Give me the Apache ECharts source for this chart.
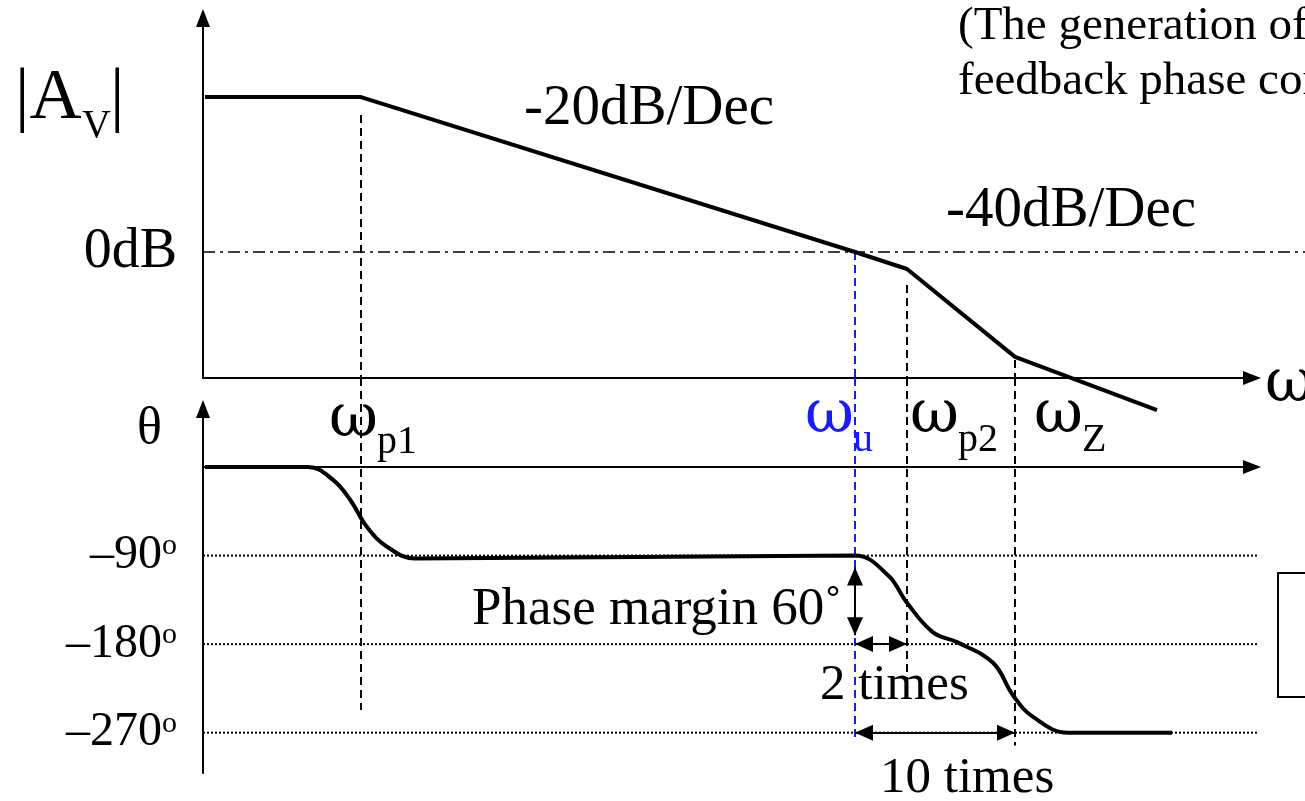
<!DOCTYPE html>
<html>
<head>
<meta charset="utf-8">
<script src="https://cdn.jsdelivr.net/npm/echarts@6/dist/echarts.min.js"></script>
<style>
html,body{margin:0;padding:0;background:#fff;}
#chart{width:1305px;height:801px;}
</style>
</head>
<body>
<div id="chart"></div>
<script>
// ---------- data ----------
// x: log-frequency in arbitrary units (schematic Bode plot)
const magX   = [0.02, 1.58, 6.52, 7.04, 8.12, 9.54];
const magDb  = [49.2, 49.2, 0, -5.4, -33.3, -50.2];

const phaseX   = [0.02, 1.05, 1.30, 1.47, 1.64, 1.84, 2.12, 6.52, 6.85, 7.04, 7.30, 7.54, 7.90, 8.10, 8.30, 8.65, 9.69];
const phaseDeg = [0, 0, -13, -33, -61, -81, -93, -90, -110, -138, -168, -178, -199, -232, -254, -270, -270];

// corner frequencies: wp1, wu, wp2, wz
const guideX          = [1.58, 6.52, 7.04, 8.12];
const guideMagTop     = [43.5, 0, -10.5, -34.3];
const guidePhaseBottom= [-247, -276, -230, -283];
const guideNames      = ['p1', 'u', 'p2', 'Z'];

const phaseTicks   = [-90, -180, -270];
const phaseTickLbl = ['–90', '–180', '–270'];
const magTicks     = [0];
const magTickLbl   = ['0dB'];

const slopeLabels  = ['-20dB/Dec', '-40dB/Dec'];
const pmLabel      = 'Phase margin 60˚';
const ratioLabels  = ['2 times', '10 times'];
const noteLines    = ['(The generation of', 'feedback phase compensation'];

// ---------- chart ----------
const FONT = '"Liberation Serif","Times New Roman",serif';
const GREEK = '"DejaVu Serif","Liberation Serif",serif';
const chart = echarts.init(document.getElementById('chart'), null, {renderer:'canvas'});

const GL = 203, GR = 1252, PAGE_R = 1305;
const magTop = 18, magBottom = 378;
const phTop = 409, phBottom = 773;
const magMin = -40, magMax = 74.3;
const phMin = -311, phMax = 59;
const xMax = 10.49;
const xMaxWide = xMax * (PAGE_R - GL) / (GR - GL);
const phAtMagBottom = (phMax - phMin) / (phBottom - phTop) * (phTop - magBottom) + phMax;

function txt(x, base, size, text, color, font) {
  return {
    type: 'text', x: x, y: base - 0.34 * size,
    style: { text: text, font: size + 'px ' + (font || FONT), fill: color || '#000',
      textAlign: 'left', textVerticalAlign: 'middle', align: 'left', verticalAlign: 'middle' }
  };
}

const arrowAxis = { show: true, onZero: false, symbol: ['none', 'triangle'], symbolSize: [14, 18],
  lineStyle: { color: '#000', width: 2 } };
const hidden = { show: false };

function seg(grid, pts, color, width, type, z) {
  return { type: 'line', xAxisIndex: grid, yAxisIndex: grid, clip: false, symbol: 'none', silent: true,
    data: pts, lineStyle: { color: color, width: width, type: type }, z: z || 1 };
}

const extraSeries = [];
guideX.forEach(function (gx, i) {
  const col = i === 1 ? '#1a1aff' : '#000';
  extraSeries.push(seg(0, [[gx, guideMagTop[i]], [gx, magMin]], col, 2, [8, 5]));
  extraSeries.push(seg(1, [[gx, phAtMagBottom], [gx, guidePhaseBottom[i]]], col, 2, [8, 5]));
});
// 0 dB reference (dash-dot), drawn on a wide twin of the gain grid
extraSeries.push(seg(2, [[0, 0], [xMaxWide, 0]], '#000', 1.5, [12, 5, 3, 5]));
// phase reference lines (dotted), on a wide twin of the phase grid
phaseTicks.forEach(function (t) {
  extraSeries.push(seg(3, [[0, t], [10.56, t]], '#000', 2, [2, 2]));
});

const arrowMark = {
  silent: true, symbol: ['triangle', 'triangle'], symbolSize: [16, 18],
  symbolOffset: [[0, 9], [0, 9]],
  label: { show: false },
  lineStyle: { color: '#000', width: 2, type: 'solid' },
  data: [
    [{ coord: [guideX[1], -102] }, { coord: [guideX[1], -171] }],
    [{ coord: [guideX[1], -180] }, { coord: [guideX[2], -180] }],
    [{ coord: [guideX[1], -270] }, { coord: [guideX[3], -270] }]
  ]
};

const option = {
  animation: false,
  backgroundColor: '#fff',
  grid: [
    { left: GL, width: GR - GL, top: magTop, height: magBottom - magTop },
    { left: GL, width: GR - GL, top: phTop, height: phBottom - phTop },
    { left: GL, width: PAGE_R - GL, top: magTop, height: magBottom - magTop },
    { left: GL, width: PAGE_R - GL, top: phTop, height: phBottom - phTop }
  ],
  xAxis: [
    { type: 'value', gridIndex: 0, min: 0, max: xMax, axisLine: arrowAxis,
      axisTick: { show: false }, axisLabel: { show: false }, splitLine: { show: false } },
    { type: 'value', gridIndex: 1, min: 0, max: xMax,
      axisLine: Object.assign({}, arrowAxis, { onZero: true }),
      axisTick: { show: false }, axisLabel: { show: false }, splitLine: { show: false } },
    { type: 'value', gridIndex: 2, min: 0, max: xMaxWide, show: false },
    { type: 'value', gridIndex: 3, min: 0, max: xMaxWide, show: false }
  ],
  yAxis: [
    { type: 'value', gridIndex: 0, min: magMin, max: magMax, axisLine: arrowAxis,
      axisTick: { show: false }, splitLine: { show: false },
      axisLabel: { show: true, customValues: magTicks, margin: 26,
        formatter: function (v) { return magTickLbl[magTicks.indexOf(v)]; },
        fontFamily: FONT, fontSize: 56, color: '#000' } },
    { type: 'value', gridIndex: 1, min: phMin, max: phMax, axisLine: arrowAxis,
      axisTick: { show: false }, splitLine: { show: false },
      axisLabel: { show: true, customValues: phaseTicks, margin: 26,
        formatter: function (v) { return '{n|' + phaseTickLbl[phaseTicks.indexOf(v)] + '}{s|o}'; },
        rich: {
          n: { fontFamily: FONT, fontSize: 48, color: '#000' },
          s: { fontFamily: FONT, fontSize: 30, color: '#000', verticalAlign: 'top', padding: [0, 0, 18, 0] }
        } } },
    { type: 'value', gridIndex: 2, min: magMin, max: magMax, show: false },
    { type: 'value', gridIndex: 3, min: phMin, max: phMax, show: false }
  ],
  series: [
    { type: 'line', name: 'gain', xAxisIndex: 0, yAxisIndex: 0, clip: false, symbol: 'none',
      data: magX.map(function (x, i) { return [x, magDb[i]]; }),
      lineStyle: { color: '#000', width: 4 }, z: 5 },
    { type: 'line', name: 'phase', xAxisIndex: 1, yAxisIndex: 1, clip: false, symbol: 'none',
      smooth: 0.4,
      data: phaseX.map(function (x, i) { return [x, phaseDeg[i]]; }),
      lineStyle: { color: '#000', width: 4 }, z: 5 },
    { type: 'line', name: 'arrows', xAxisIndex: 1, yAxisIndex: 1, clip: false, symbol: 'none',
      data: [], markLine: arrowMark, z: 6 }
  ].concat(extraSeries),
  graphic: {
    elements: [
      txt(958, 43, 47, noteLines[0]),
      txt(958, 98, 47, noteLines[1]),
      txt(524, 128, 57, slopeLabels[0]),
      txt(946, 230, 57, slopeLabels[1]),
      txt(15, 124, 72, '|A'),
      txt(82, 140, 40, 'V'),
      txt(110, 124, 72, '|'),
      txt(137, 447, 52, 'θ'),
      txt(329, 441, 60, 'ω', null, GREEK), txt(377, 456, 40, guideNames[0]),
      txt(805, 437, 60, 'ω', '#1a1aff', GREEK), txt(853, 454, 40, guideNames[1], '#1a1aff'),
      txt(910, 437, 60, 'ω', null, GREEK), txt(958, 454, 40, guideNames[2]),
      txt(1034, 437, 60, 'ω', null, GREEK), txt(1082, 454, 40, guideNames[3]),
      txt(1265, 406, 60, 'ω', null, GREEK),
      txt(472, 628, 53, pmLabel),
      txt(820, 703, 51, ratioLabels[0]),
      txt(880, 796, 51, ratioLabels[1]),
      { type: 'rect', shape: { x: 1278, y: 573, width: 80, height: 124 },
        style: { fill: 'none', stroke: '#000', lineWidth: 2 } }
    ]
  }
};
chart.setOption(option);
</script>
</body>
</html>
